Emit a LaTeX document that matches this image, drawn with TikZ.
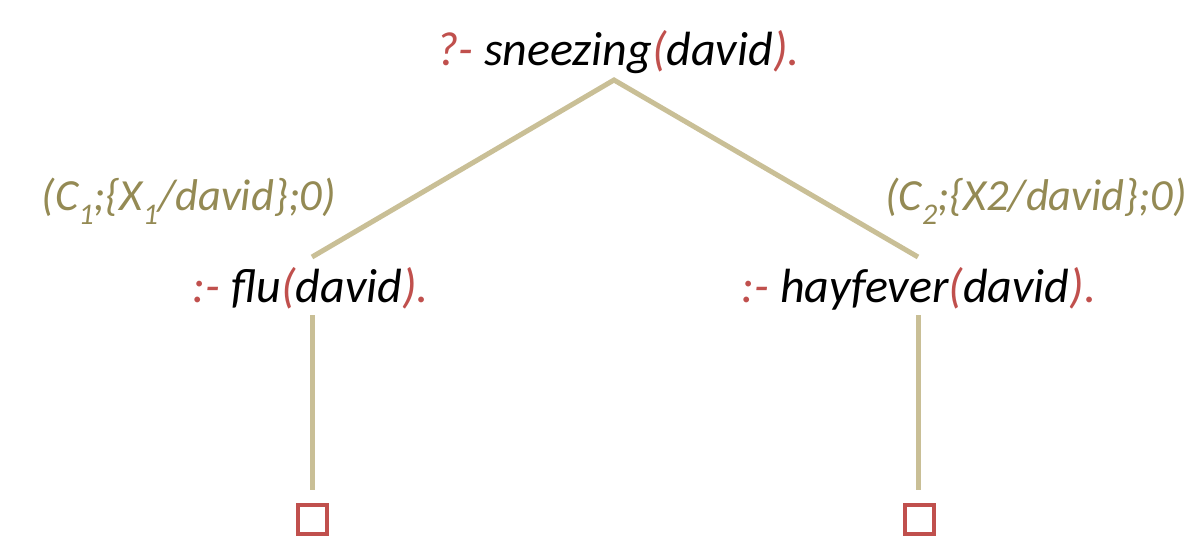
\documentclass[tikz,border=0pt]{standalone}
\usepackage{fontspec}
\setmainfont{Carlito}
\definecolor{goalred}{HTML}{C0504D}
\definecolor{edgetan}{HTML}{C9BF96}
\definecolor{labelolive}{HTML}{948A54}
\newcommand{\rd}[1]{\textcolor{goalred}{#1}}
\newcommand{\lowsub}[1]{\raisebox{-0.3em}{\fontsize{30}{32}\selectfont #1}}
\begin{document}
\begin{tikzpicture}[x=1pt,y=-1pt,
  goal/.style={font=\fontsize{48}{52}\selectfont\itshape, anchor=base, inner sep=0pt},
  subst/.style={font=\fontsize{44.5}{48}\selectfont\itshape, text=labelolive, anchor=base, inner sep=0pt},
  edge/.style={draw=edgetan, line width=5pt},
  empty/.style={draw=goalred, line width=4pt, minimum size=29pt, inner sep=0pt}]
  \useasboundingbox (0,0) rectangle (1197,540);

  % goals of the SLD tree
  \node[goal] (root) at (618,66) {\rd{?-} sneezing\rd{(}david\rd{).}};
  \node[goal] (flu) at (311,302) {\rd{:-} flu\rd{(}david\rd{).}};
  \node[goal] (hay) at (919,302) {\rd{:-} hayfever\rd{(}david\rd{).}};

  % empty clauses (success leaves)
  \node[empty] (boxl) at (312,519) {};
  \node[empty] (boxr) at (919,519) {};

  % edge end points
  \coordinate (apex) at (614,80);
  \coordinate (flutop) at (312,257);
  \coordinate (haytop) at (918,257);
  \coordinate (flubot) at (312,315);
  \coordinate (haybot) at (918,315);
  \coordinate (boxltop) at (312,490);
  \coordinate (boxrtop) at (918,490);

  \draw[edge] (flutop) -- (apex) -- (haytop);
  \draw[edge] (flubot) -- (boxltop);
  \draw[edge] (haybot) -- (boxrtop);

  % substitutions on the resolution steps
  \node[subst] (subl) at (189,211) {(C\lowsub{1};\{X\lowsub{1}/david\};0)};
  \node[subst] (subr) at (1036,211) {(C\lowsub{2};\{X2/david\};0)};
\end{tikzpicture}
\end{document}
